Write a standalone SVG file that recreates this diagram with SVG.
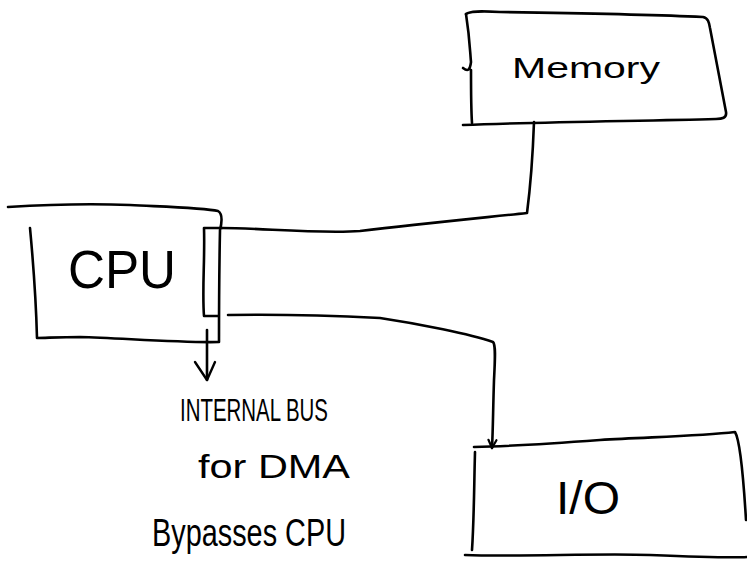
<svg xmlns="http://www.w3.org/2000/svg" width="747" height="561" viewBox="0 0 747 561">
  <style>
    .ink { fill: none; stroke: #000; stroke-width: 2.6; stroke-linecap: round; stroke-linejoin: round; }
    .hand { font-family: "Liberation Sans", "DejaVu Sans", sans-serif; fill: #000; }
  </style>
  <defs>
    <!-- open V arrowhead, drawn along +x so orient="auto" follows the line -->
    <marker id="vhead" markerWidth="24" markerHeight="26" refX="20" refY="12" orient="auto" markerUnits="userSpaceOnUse">
      <path d="M2,4 L20,12 L2,24" fill="none" stroke="#000" stroke-width="2.4" stroke-linecap="round" stroke-linejoin="round"/>
    </marker>
    <marker id="vsmall" markerWidth="12" markerHeight="12" refX="10" refY="6" orient="auto" markerUnits="userSpaceOnUse">
      <path d="M2,2 L10,6 L2,10" fill="none" stroke="#000" stroke-width="2.2" stroke-linecap="round" stroke-linejoin="round"/>
    </marker>
  </defs>
  <rect width="747" height="561" fill="#fff"/>

  <g id="memory">
    <path class="ink" d="M466,14 C470,11 480,11 500,12 C560,13 640,14 703,17 C708,18 709,22 710,28 C716,60 722,90 726,112 C727,118 722,119 716,119 C640,121 540,122 463,125"/>
    <path class="ink" d="M466,14 C470,40 470,52 471,62 C470,70 468,72 463,68 M471,70 C471,90 471,108 472,123"/>
    <text class="hand" x="512" y="78" font-size="30" textLength="148" lengthAdjust="spacingAndGlyphs">Memory</text>
  </g>

  <g id="cpu">
    <path class="ink" d="M8,207 C40,205 80,203 130,205 C170,207 205,208 218,211 C223,214 222,222 220,230 C219,280 219,320 219,342 C180,343 120,338 80,337 C60,337 45,338 37,338 C36,300 33,260 30,228"/>
    <text class="hand" x="68" y="288" font-size="54" textLength="108" lengthAdjust="spacingAndGlyphs">CPU</text>
  </g>

  <g id="bus-port">
    <path class="ink" d="M204,228 L222,228 M204,228 C205,260 202,290 204,316 L218,316"/>
  </g>

  <g id="io">
    <path class="ink" d="M474,447 C520,446 560,443 600,440 C650,437 700,436 735,432 C740,440 743,470 746,520"/>
    <path class="ink" d="M475,452 C474,490 474,520 472,550"/>
    <path class="ink" d="M465,555 C520,557 600,553 650,555 C700,557 730,558 747,557"/>
    <text class="hand" x="556" y="514" font-size="46" textLength="64" lengthAdjust="spacingAndGlyphs">I/O</text>
  </g>

  <g id="connectors">
    <!-- memory to CPU port -->
    <path class="ink" d="M534,122 C533,150 530,190 527,213 C480,218 420,224 360,231 C320,234 260,228 222,228"/>
    <!-- CPU port to I/O -->
    <path class="ink" marker-end="url(#vsmall)" d="M228,315 C280,314 340,316 380,318 C420,324 470,334 493,342 C496,345 495,360 494,380 C493,410 493,430 492,448"/>
    <!-- internal bus arrow -->
    <path class="ink" marker-end="url(#vhead)" d="M207,330 C207,345 207,360 207,380"/>
  </g>

  <g id="note">
    <text class="hand" x="180" y="421" font-size="32" textLength="148" lengthAdjust="spacingAndGlyphs">INTERNAL BUS</text>
    <text class="hand" x="198" y="478" font-size="34" textLength="152" lengthAdjust="spacingAndGlyphs">for DMA</text>
    <text class="hand" x="152" y="546" font-size="38" textLength="194" lengthAdjust="spacingAndGlyphs">Bypasses CPU</text>
  </g>
</svg>
